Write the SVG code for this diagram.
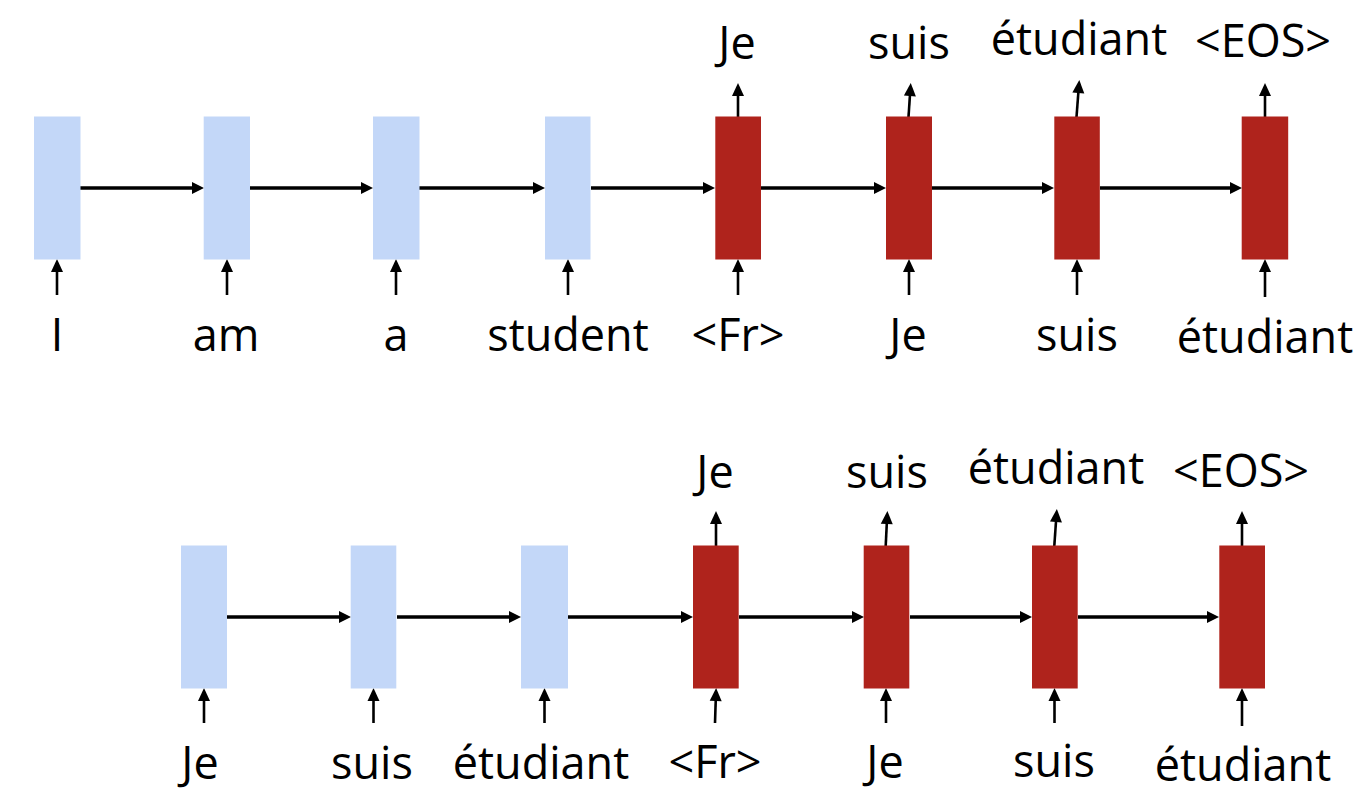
<svg xmlns="http://www.w3.org/2000/svg" width="1372" height="810" viewBox="0 0 1372 810">
<style>
.enc{fill:#C3D7F8}
.dec{fill:#AF231C}
.lbl{font-family:"Open Sans","Noto Sans","Liberation Sans",sans-serif;font-size:45px;fill:#000;text-anchor:middle}
.h{stroke:#000;stroke-width:3.4;fill:none;marker-end:url(#ah)}
.v{stroke:#000;stroke-width:2.6;fill:none;marker-end:url(#av)}
</style>
<defs>
<marker id="ah" markerUnits="userSpaceOnUse" markerWidth="12" markerHeight="12" refX="8" refY="6" orient="auto" overflow="visible">
<path d="M0,0 L12,6 L0,12 z" fill="#000"/>
</marker>
<marker id="av" markerUnits="userSpaceOnUse" markerWidth="13" markerHeight="12" refX="9" refY="6" orient="auto" overflow="visible">
<path d="M0,0 L13,6 L0,12 z" fill="#000"/>
</marker>
</defs>
<rect width="1372" height="810" fill="#fff"/>

<g id="connectors">
<line class="h" x1="80" y1="188" x2="200" y2="188"/>
<line class="h" x1="250" y1="188" x2="369" y2="188"/>
<line class="h" x1="419" y1="188" x2="541" y2="188"/>
<line class="h" x1="591" y1="188" x2="711" y2="188"/>
<line class="h" x1="761" y1="188" x2="882" y2="188"/>
<line class="h" x1="932" y1="188" x2="1050" y2="188"/>
<line class="h" x1="1100" y1="188" x2="1238" y2="188"/>
<line class="v" x1="57" y1="295" x2="57" y2="263"/>
<line class="v" x1="227" y1="295" x2="227" y2="263"/>
<line class="v" x1="396" y1="295" x2="396" y2="263"/>
<line class="v" x1="568" y1="295" x2="568" y2="263"/>
<line class="v" x1="738" y1="295" x2="738" y2="263"/>
<line class="v" x1="909" y1="295" x2="909" y2="263"/>
<line class="v" x1="1077" y1="295" x2="1077" y2="263"/>
<line class="v" x1="1265" y1="297" x2="1265" y2="263"/>
<line class="v" x1="738" y1="117" x2="738" y2="87"/>
<line class="v" x1="908.5" y1="117" x2="910.5" y2="87"/>
<line class="v" x1="1076.5" y1="117" x2="1079" y2="84"/>
<line class="v" x1="1265" y1="117" x2="1265" y2="87"/>
<line class="h" x1="227" y1="617" x2="347" y2="617"/>
<line class="h" x1="397" y1="617" x2="517" y2="617"/>
<line class="h" x1="568" y1="617" x2="689" y2="617"/>
<line class="h" x1="739" y1="617" x2="860" y2="617"/>
<line class="h" x1="910" y1="617" x2="1028" y2="617"/>
<line class="h" x1="1078" y1="617" x2="1215" y2="617"/>
<line class="v" x1="204" y1="723" x2="204" y2="692"/>
<line class="v" x1="373.5" y1="723" x2="373.5" y2="692"/>
<line class="v" x1="544.5" y1="723" x2="544.5" y2="692"/>
<line class="v" x1="715" y1="723" x2="716" y2="692"/>
<line class="v" x1="886" y1="723" x2="886" y2="692"/>
<line class="v" x1="1054.5" y1="723" x2="1054.5" y2="692"/>
<line class="v" x1="1242" y1="726" x2="1242" y2="692"/>
<line class="v" x1="716" y1="546" x2="716" y2="515"/>
<line class="v" x1="885.7" y1="546" x2="887.2" y2="515"/>
<line class="v" x1="1054.3" y1="546" x2="1056.6" y2="513"/>
<line class="v" x1="1242" y1="546" x2="1242" y2="515"/>
</g>

<g id="t_enc1"><rect class="enc" x="34" y="116.5" width="46.5" height="143"/><text class="lbl" x="57" y="351">I</text></g>
<g id="t_enc2"><rect class="enc" x="203.7" y="116.5" width="46.3" height="143"/><text class="lbl" x="226" y="351">am</text></g>
<g id="t_enc3"><rect class="enc" x="373" y="116.5" width="46.5" height="143"/><text class="lbl" x="396" y="351">a</text></g>
<g id="t_enc4"><rect class="enc" x="545" y="116.5" width="45.5" height="143"/><text class="lbl" x="568" y="351">student</text></g>
<g id="t_dec1"><rect class="dec" x="715.3" y="116.5" width="45.7" height="143"/><text class="lbl" x="738" y="351">&lt;Fr&gt;</text><text class="lbl" x="737" y="59">Je</text></g>
<g id="t_dec2"><rect class="dec" x="886" y="116.5" width="46" height="143"/><text class="lbl" x="908" y="351">Je</text><text class="lbl" x="909" y="59">suis</text></g>
<g id="t_dec3"><rect class="dec" x="1054.3" y="116.5" width="45.5" height="143"/><text class="lbl" x="1077" y="351">suis</text><text class="lbl" x="1079" y="55">étudiant</text></g>
<g id="t_dec4"><rect class="dec" x="1241.7" y="116.5" width="46.5" height="143"/><text class="lbl" x="1265" y="353">étudiant</text><text class="lbl" x="1263" y="57">&lt;EOS&gt;</text></g>

<g id="b_enc1"><rect class="enc" x="181" y="545.5" width="46" height="143"/><text class="lbl" x="200" y="779">Je</text></g>
<g id="b_enc2"><rect class="enc" x="350.7" y="545.5" width="45.6" height="143"/><text class="lbl" x="372" y="779">suis</text></g>
<g id="b_enc3"><rect class="enc" x="521" y="545.5" width="47" height="143"/><text class="lbl" x="541" y="779">étudiant</text></g>
<g id="b_dec1"><rect class="dec" x="693" y="545.5" width="45.7" height="143"/><text class="lbl" x="715" y="778">&lt;Fr&gt;</text><text class="lbl" x="715" y="488">Je</text></g>
<g id="b_dec2"><rect class="dec" x="863.7" y="545.5" width="45.6" height="143"/><text class="lbl" x="885" y="778">Je</text><text class="lbl" x="887" y="488">suis</text></g>
<g id="b_dec3"><rect class="dec" x="1032" y="545.5" width="45.7" height="143"/><text class="lbl" x="1054" y="777">suis</text><text class="lbl" x="1056" y="484">étudiant</text></g>
<g id="b_dec4"><rect class="dec" x="1219.3" y="545.5" width="45.7" height="143"/><text class="lbl" x="1243" y="781">étudiant</text><text class="lbl" x="1241" y="487">&lt;EOS&gt;</text></g>
</svg>
